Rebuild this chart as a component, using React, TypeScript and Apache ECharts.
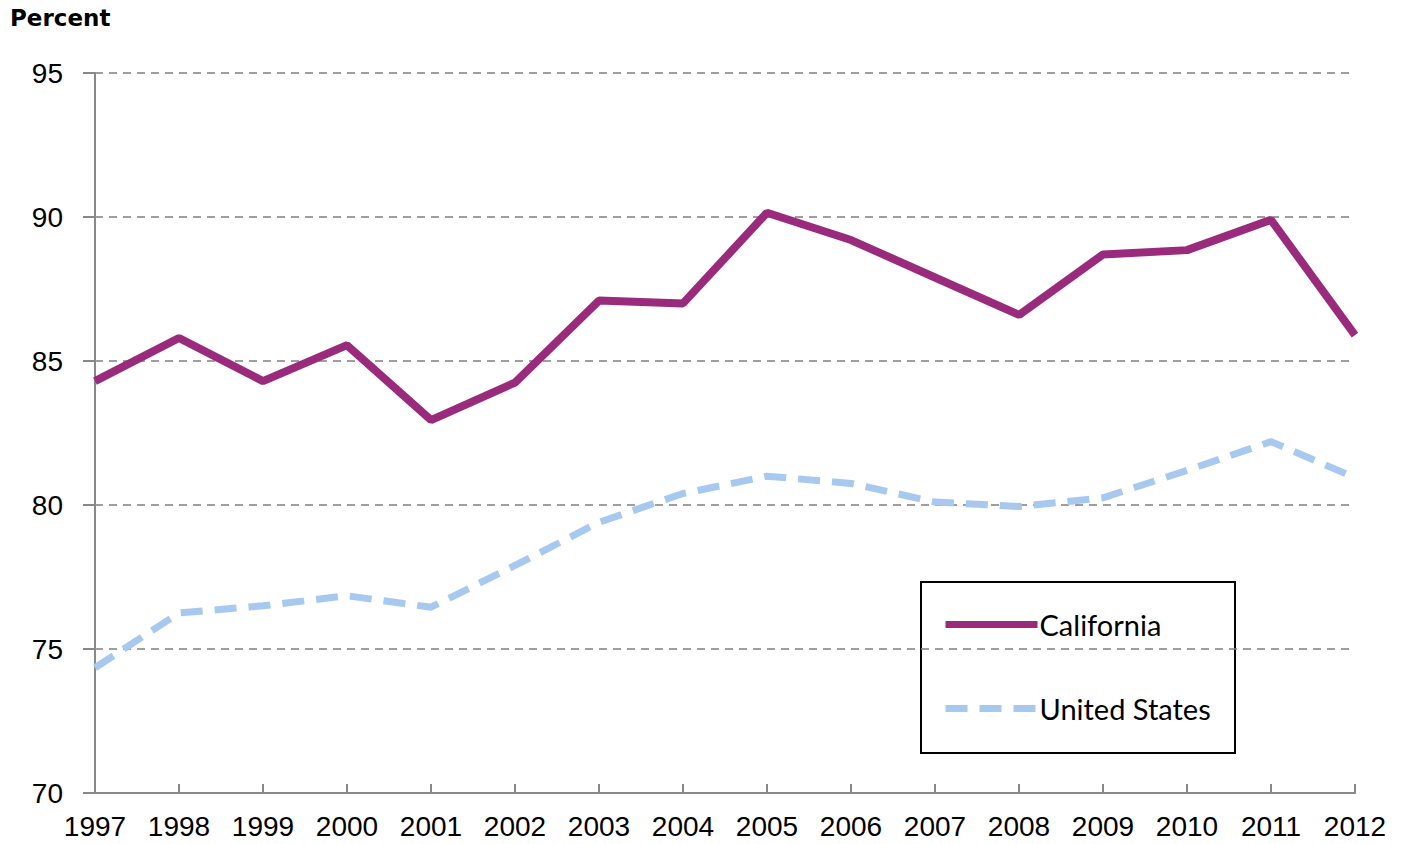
import React, { useEffect, useRef } from "react";
import * as echarts from "echarts";

const years = ["1997","1998","1999","2000","2001","2002","2003","2004","2005","2006","2007","2008","2009","2010","2011","2012"];
const california = [84.3, 85.8, 84.3, 85.55, 82.95, 84.25, 87.1, 87.0, 90.15, 89.2, 87.9, 86.6, 88.7, 88.85, 89.9, 85.9];
const unitedStates = [74.35, 76.25, 76.5, 76.85, 76.45, 77.9, 79.4, 80.4, 81.0, 80.75, 80.1, 79.95, 80.25, 81.2, 82.2, 80.95];

export default function App() {
  const ref = useRef<HTMLDivElement>(null);
  useEffect(() => {
    const chart = echarts.init(ref.current!, null, { renderer: "svg" });
    chart.setOption({
      animation: false,
      backgroundColor: "#ffffff",
      grid: { left: 95, right: 48, top: 73, bottom: 51, containLabel: false },
      xAxis: {
        type: "category",
        data: years,
        boundaryGap: false,
        axisLine: { show: true, lineStyle: { color: "#888888", width: 2 } },
        axisTick: { show: true, inside: true, length: 9, alignWithLabel: true, lineStyle: { color: "#888888", width: 2 } },
        axisLabel: { color: "#000000", fontSize: 28, fontFamily: "Liberation Sans", margin: 19, interval: 0 },
        splitLine: { show: false },
      },
      yAxis: {
        type: "value",
        min: 70,
        max: 95,
        interval: 5,
        axisLine: { show: true, lineStyle: { color: "#888888", width: 2 } },
        axisTick: { show: true, inside: false, length: 12, lineStyle: { color: "#888888", width: 2 } },
        axisLabel: { color: "#000000", fontSize: 28, fontFamily: "Liberation Sans", margin: 32 },
        splitLine: { show: true, lineStyle: { color: "#7f7f7f", width: 1.5, type: [8, 6] } },
      },
      legend: {
        orient: "vertical",
        left: 942,
        top: 610,
        itemGap: 55,
        itemWidth: 92,
        itemHeight: 8,
        padding: 0,
        itemStyle: { opacity: 0 },
        lineStyle: { width: 7 },
        textStyle: { fontSize: 29, fontFamily: "Lato", color: "#000000", padding: [0, 0, 0, -3] },
        data: ["California", "United States"],
      },
      graphic: [
        {
          type: "rect",
          shape: { x: 921, y: 582, width: 314, height: 171 },
          style: { fill: "none", stroke: "#000000", lineWidth: 2 },
          z: 0,
        },
        {
          type: "text",
          left: 10,
          top: 6,
          style: { text: "Percent", fontSize: 23, fontWeight: "bold", fontFamily: "DejaVu Sans", fill: "#000000" },
        },
      ],
      series: [
        {
          name: "California",
          type: "line",
          data: california,
          symbol: "none",
          lineStyle: { color: "#9a2a7c", width: 8 },
          itemStyle: { color: "#9a2a7c" },
          z: 3,
        },
        {
          name: "United States",
          type: "line",
          data: unitedStates,
          symbol: "none",
          lineStyle: { color: "#a7c8ef", width: 7, type: [22, 12] },
          itemStyle: { color: "#a7c8ef" },
          z: 2,
        },
      ],
    });
    return () => chart.dispose();
  }, []);
  return <div ref={ref} style={{ width: 1403, height: 844, position: "absolute", left: 0, top: 0 }} />;
}
